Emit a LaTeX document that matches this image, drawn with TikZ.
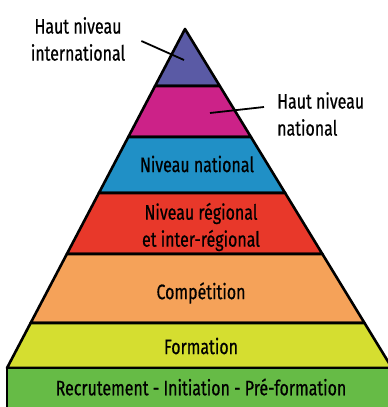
\documentclass[tikz,border=0pt]{standalone}
\usepackage{fontspec}
\setmainfont{Fira Sans}[FakeStretch=0.76,FakeBold=0.6]
\usetikzlibrary{calc}
\definecolor{pyrviolet}{HTML}{5A5AA5}
\definecolor{pyrmagenta}{HTML}{CC2288}
\definecolor{pyrblue}{HTML}{2090C6}
\definecolor{pyrred}{HTML}{E8382A}
\definecolor{pyrorange}{HTML}{F5A259}
\definecolor{pyryellow}{HTML}{D5DE30}
\definecolor{pyrgreen}{HTML}{66BB46}

\begin{document}
\begin{tikzpicture}[x=1pt,y=-1pt,
		band/.style={draw=black,line width=2.6pt,line join=round},
		lbl/.style={font=\fontsize{21}{27}\selectfont,inner sep=0pt}]
		\useasboundingbox (0,0) rectangle (388,407);
		\clip (0,0) rectangle (388,407);
		\coordinate (A) at (185,29);
		\coordinate (BL) at (7,368);
		\coordinate (BR) at (392,368);
		% bands of the pyramid, y from top to bottom
		\foreach \ya/\yb/\col in {29/86/pyrviolet,86/137/pyrmagenta,137/193/pyrblue,193/254/pyrred,254/323/pyrorange,323/368/pyryellow}{
			\pgfmathsetmacro{\fa}{(\ya-29)/339}
			\pgfmathsetmacro{\fb}{(\yb-29)/339}
			\draw[band,fill=\col] ($(A)!\fa!(BL)$) -- ($(A)!\fb!(BL)$) -- ($(A)!\fb!(BR)$) -- ($(A)!\fa!(BR)$) -- cycle;
		}
		\draw[band,fill=pyrgreen] (BL) rectangle (400,420);
		% labels
		\node[lbl] (nat) at (197,164) {Niveau national};
		\node[lbl,align=center] (reg) at (201,227) {Niveau régional\\et inter-régional};
		\node[lbl] (comp) at (201,293) {Compétition};
		\node[lbl] (form) at (201,346) {Formation};
		\node[lbl] (recr) at (201,387) {Recrutement - Initiation - Pré-formation};
		\node[lbl,align=center] (hni) at (78,39) {Haut niveau\\international};
		\node[lbl,align=left,anchor=west] (hnn) at (277,114) {Haut niveau\\national};
		% leader lines
		\coordinate (hnitip) at (184,60);
		\coordinate (hnntip) at (210,113);
		\draw[line width=1.8pt] ($(hni.east)+(16,2)$) -- (hnitip);
		\draw[line width=1.8pt] (hnntip) -- ($(hnn.west)+(-13,-7)$);
	\end{tikzpicture}
\end{document}
